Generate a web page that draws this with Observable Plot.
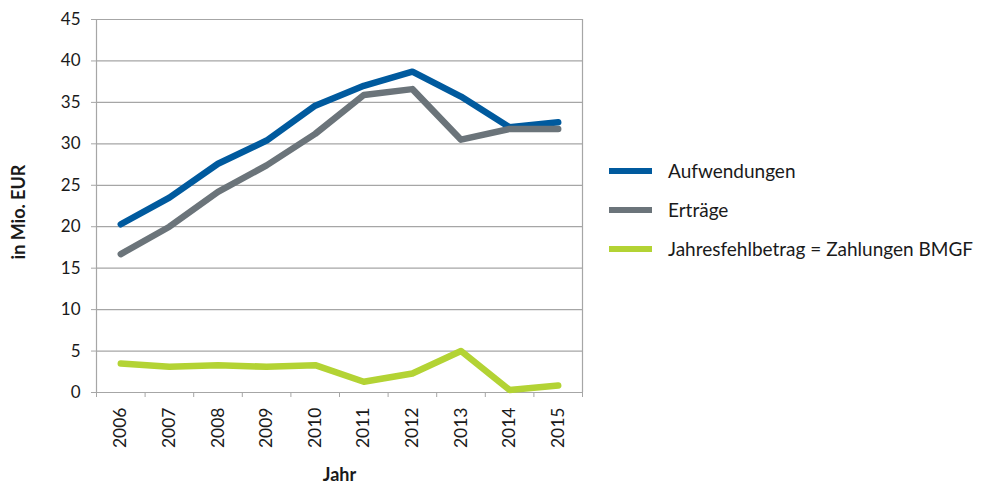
<!DOCTYPE html>
<html>
<head>
<meta charset="utf-8">
<script src="https://cdn.jsdelivr.net/npm/d3@7"></script>
<script src="https://cdn.jsdelivr.net/npm/@observablehq/plot@0.6"></script>
<style>
  html, body { margin: 0; padding: 0; background: #fff; }
  #wrap { position: relative; width: 986px; height: 484px; font-family: Lato, "Open Sans", sans-serif; }
  #legend { position: absolute; left: 609px; top: 0; }
  .item { position: absolute; left: 0; white-space: nowrap; font-size: 19px; color: #1a1a1a; }
  .sw { position: absolute; left: 0; width: 43px; height: 6px; }
  .lab { position: absolute; left: 59px; white-space: nowrap; line-height: 24px; }
</style>
</head>
<body>
<div id="wrap"></div>
<script>
const years = [2006, 2007, 2008, 2009, 2010, 2011, 2012, 2013, 2014, 2015];
const aufwendungen = [20.3, 23.5, 27.6, 30.4, 34.6, 37.0, 38.7, 35.7, 32.0, 32.6];
const ertraege = [16.7, 20.0, 24.2, 27.4, 31.2, 35.9, 36.6, 30.5, 31.8, 31.8];
const fehlbetrag = [3.5, 3.1, 3.3, 3.1, 3.3, 1.3, 2.3, 5.0, 0.3, 0.85];
const seriesNames = ["Aufwendungen", "Erträge", "Jahresfehlbetrag = Zahlungen BMGF"];
const seriesColors = ["#005a9e", "#6b747a", "#b3d334"];
const yTicks = [0, 5, 10, 15, 20, 25, 30, 35, 40, 45];
const yLabel = "in Mio. EUR";
const xLabel = "Jahr";

const seriesValues = [aufwendungen, ertraege, fehlbetrag];
const data = [];
seriesNames.forEach((name, i) => {
  years.forEach((yr, j) => data.push({series: name, year: yr, value: seriesValues[i][j]}));
});
const boundaries = [...years.map(y => y - 0.5), years[years.length - 1] + 0.5];

const gridColor = "#a6a6a6";
const chart = Plot.plot({
  width: 986,
  height: 484,
  marginLeft: 96,
  marginRight: 404,
  marginTop: 19,
  marginBottom: 92,
  style: {fontFamily: "Lato, 'Open Sans', sans-serif", fontSize: "17px", color: "#1a1a1a", background: "#fff"},
  x: {type: "linear", domain: [boundaries[0], boundaries[boundaries.length - 1]]},
  y: {domain: [0, 45]},
  color: {domain: seriesNames, range: seriesColors},
  marks: [
    Plot.ruleY(yTicks, {stroke: gridColor, strokeWidth: 1.2, strokeOpacity: 1}),
    Plot.ruleX([boundaries[0], boundaries[boundaries.length - 1]], {stroke: gridColor, strokeWidth: 1.2, strokeOpacity: 1}),
    Plot.axisY({ticks: yTicks, tickSize: 5, tickPadding: 11, stroke: gridColor, strokeOpacity: 1, label: null, fontSize: 17}),
    Plot.axisX({ticks: boundaries, tickSize: 5, tickFormat: () => "", stroke: gridColor, strokeOpacity: 1, label: null}),
    Plot.axisX({ticks: years, tickSize: 0, tickPadding: 15, tickRotate: -90, tickFormat: d => String(d), label: null, fontSize: 17.5}),
    Plot.line(data, {x: "year", y: "value", z: "series", stroke: "series", strokeWidth: 6.5, strokeLinecap: "round", strokeLinejoin: "round"}),
    Plot.text([yLabel], {frameAnchor: "left", textAnchor: "middle", dx: -77, dy: 6, rotate: -90, fontWeight: "bold", fontSize: 18}),
    Plot.text([xLabel], {frameAnchor: "bottom", dy: 88, fontWeight: "bold", fontSize: 18})
  ]
});
const wrap = document.getElementById("wrap");
wrap.appendChild(chart);

const legend = document.createElement("div");
legend.id = "legend";
const legendY = [171, 210, 249];
seriesNames.forEach((name, i) => {
  const item = document.createElement("div");
  item.className = "item";
  item.style.top = legendY[i] + "px";
  const sw = document.createElement("div");
  sw.className = "sw";
  sw.style.background = seriesColors[i];
  sw.style.top = "-3px";
  const lab = document.createElement("div");
  lab.className = "lab";
  lab.style.top = "-12px";
  lab.textContent = name;
  item.appendChild(sw);
  item.appendChild(lab);
  legend.appendChild(item);
});
wrap.appendChild(legend);
</script>
</body>
</html>
